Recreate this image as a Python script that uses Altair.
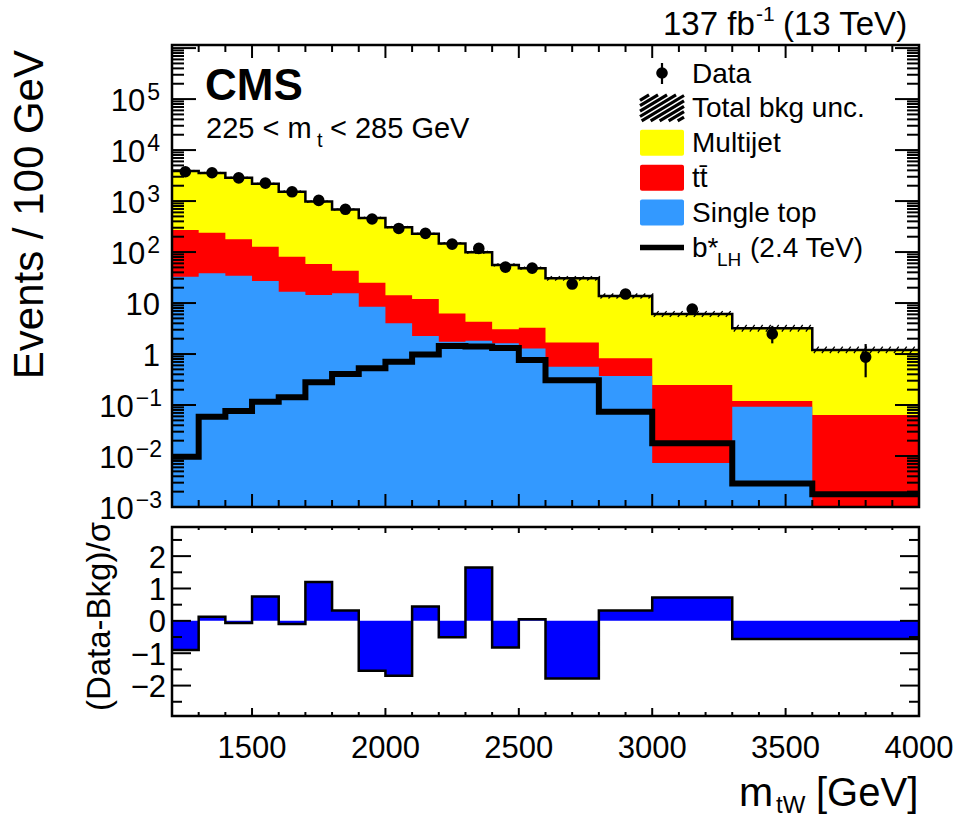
import numpy as np
import pandas as pd
import altair as alt

FONT = "Liberation Sans"

# ---------------- data (values per 100 GeV) ----------------
bin_lo = [1200, 1300, 1400, 1500, 1600, 1700, 1800, 1900, 2000, 2100,
          2200, 2300, 2400, 2500, 2600, 2800, 3000, 3300, 3600]
bin_hi = [1300, 1400, 1500, 1600, 1700, 1800, 1900, 2000, 2100, 2200,
          2300, 2400, 2500, 2600, 2800, 3000, 3300, 3600, 4000]

multijet = [3630, 3321, 2683, 2053, 1449, 917, 639, 443, 294, 216,
            141.7, 94.7, 52.9, 45.0, 28.8, 12.9, 5.85, 3.08, 1.14]
ttbar = [237, 201, 143, 100, 64, 44, 27.5, 16.5, 10.2, 9.8,
         4.5, 2.5, 1.43, 2.0, 1.12, 0.46, 0.24, 0.027, 0.064]
single_top = [32.8, 38.2, 34.3, 27.0, 16.7, 14.4, 15.5, 8.46, 4.0, 2.25,
              1.74, 1.82, 1.62, 1.29, 0.563, 0.371, 0.0073, 0.0927, 0.0]
signal_bstar = [0.0097, 0.059, 0.076, 0.116, 0.142, 0.279, 0.405, 0.525, 0.707, 0.977,
                1.44, 1.40, 1.31, 0.762, 0.305, 0.074, 0.0177, 0.0029, 0.00177]
data_obs = [3760, 3590, 2850, 2250, 1520, 1030, 690, 445, 290, 233,
            143, 118, 50.5, 48.5, 23.6, 15.0, 7.6, 2.47, 0.87]
data_err_lo = [61, 60, 53, 47, 39, 32, 26, 21, 17, 15,
               12, 11, 7, 7, 3.4, 2.6, 1.6, 0.85, 0.52]
data_err_hi = [61, 60, 53, 47, 39, 32, 26, 21, 17, 15,
               12, 11, 7, 7, 3.6, 2.9, 1.8, 1.1, 0.70]
bkg_unc = [0.03, 0.03, 0.03, 0.03, 0.03, 0.03, 0.03, 0.03, 0.03, 0.03,
           0.04, 0.05, 0.06, 0.06, 0.10, 0.12, 0.14, 0.16, 0.16]
pull_values = [-0.9, 0.13, -0.07, 0.75, -0.1, 1.2, 0.32, -1.54, -1.70, 0.44,
               -0.51, 1.65, -0.82, 0.05, -1.78, 0.32, 0.72, -0.56, -0.56]

x_tick_labels = [1500, 2000, 2500, 3000, 3500, 4000]
pull_tick_labels = [-2, -1, 0, 1, 2]
log_tick_exps = [-3, -2, -1, 0, 1, 2, 3, 4, 5]

legend_labels = ["Data", "Total bkg unc.", "Multijet", "tt\u0304", "Single top"]
legend_colors = {"Multijet": "#ffff00", "tt\u0304": "#ff0000", "Single top": "#3399ff"}

# ---------------- geometry ----------------
W, H = 747, 671
TOP_H = 462
BOT_T, BOT_B = 482, 671
YMIN, YMAX = 1e-3, 1.15e6

xs = alt.Scale(domain=[1200, 4000], range=[0, W], nice=False, zero=False)
ys_top = alt.Scale(type="log", domain=[YMIN, YMAX], range=[TOP_H, 0], nice=False)
ys_bot = alt.Scale(domain=[-2.94, 2.90], range=[BOT_B, BOT_T], nice=False, zero=False)

hist = pd.DataFrame({
    "lo": bin_lo, "hi": bin_hi,
    "mj": multijet, "tt": ttbar, "st": single_top,
    "data": data_obs, "elo": data_err_lo, "ehi": data_err_hi,
    "pull": pull_values,
})
hist["s_st"] = hist["st"]
hist["s_tt"] = hist["st"] + hist["tt"]
hist["s_all"] = hist["s_tt"] + hist["mj"]
hist["xc"] = (hist["lo"] + hist["hi"]) / 2
hist["d_lo"] = hist["data"] - hist["elo"]
hist["d_hi"] = hist["data"] + hist["ehi"]


def XQ(f):
    return alt.X(f, type="quantitative", scale=xs, axis=None)


def step_df(vals, base=None):
    vals = list(vals)
    d = pd.DataFrame({"x": bin_lo + [bin_hi[-1]], "y": vals + [vals[-1]]})
    if base is not None:
        d["b"] = base
    return d


def stack_area(vals, color):
    v = np.maximum(np.asarray(vals, dtype=float), YMIN)
    return alt.Chart(step_df(v, YMIN)).mark_area(
        interpolate="step-after", color=color, opacity=1).encode(
        x=XQ("x"), y=alt.Y("y:Q", scale=ys_top, axis=None), y2="b:Q")


def txt(text, x, y, size, align="left", angle=0, weight="normal", baseline="alphabetic"):
    return alt.Chart(pd.DataFrame({"t": [text]})).mark_text(
        font=FONT, fontSize=size, align=align, baseline=baseline, angle=angle,
        fontWeight=weight, color="black").encode(
        x=alt.value(x), y=alt.value(y), text="t:N")


def prect(x0, x1, y0, y1, **kw):
    return alt.Chart(pd.DataFrame({"a": [0]})).mark_rect(**kw).encode(
        x=alt.value(x0), x2=alt.value(x1), y=alt.value(y0), y2=alt.value(y1))


def pline(x0, y0, x1, y1, sw):
    return alt.Chart(pd.DataFrame({"a": [0]})).mark_rule(color="black", strokeWidth=sw).encode(
        x=alt.value(x0), x2=alt.value(x1), y=alt.value(y0), y2=alt.value(y1))


def xticks(vals, y0, y1, sw=2):
    return alt.Chart(pd.DataFrame({"v": vals})).mark_rule(color="black", strokeWidth=sw).encode(
        x=XQ("v"), y=alt.value(y0), y2=alt.value(y1))


def yticks(vals, scale, x0, x1, sw=2):
    return alt.Chart(pd.DataFrame({"v": vals})).mark_rule(color="black", strokeWidth=sw).encode(
        y=alt.Y("v:Q", scale=scale, axis=None), x=alt.value(x0), x2=alt.value(x1))


# ---------------- top panel ----------------
yellow = stack_area(hist["s_all"], "#ffff00")
red = stack_area(hist["s_tt"], "#ff0000")
blue = stack_area(hist["s_st"], "#3399ff")

hatch_rows = []
for lo, hi, tot, u in zip(bin_lo, bin_hi, hist["s_all"], bkg_unc):
    for xc in np.arange(lo + 15, hi, 30):
        hatch_rows.append({"xa": xc - 9, "xb": xc + 9, "ya": tot / (1 + u), "yb": tot * (1 + u)})
hatch = alt.Chart(pd.DataFrame(hatch_rows)).mark_rule(color="black", strokeWidth=1.3).encode(
    x=XQ("xa"), x2="xb:Q", y=alt.Y("ya:Q", scale=ys_top, axis=None), y2="yb:Q")

total_line = alt.Chart(step_df(hist["s_all"])).mark_line(
    interpolate="step-after", color="black", strokeWidth=2.5).encode(
    x=XQ("x"), y=alt.Y("y:Q", scale=ys_top, axis=None))
signal_line = alt.Chart(step_df(signal_bstar)).mark_line(
    interpolate="step-after", color="black", strokeWidth=6).encode(
    x=XQ("x"), y=alt.Y("y:Q", scale=ys_top, axis=None))

err = alt.Chart(hist).mark_rule(color="black", strokeWidth=2.2).encode(
    x=XQ("xc"), y=alt.Y("d_lo:Q", scale=ys_top, axis=None), y2="d_hi:Q")
dots = alt.Chart(hist).mark_circle(color="black", size=135, opacity=1).encode(
    x=XQ("xc"), y=alt.Y("data:Q", scale=ys_top, axis=None))

x_major = [1500, 2000, 2500, 3000, 3500]
x_minor = [v for v in range(1300, 4000, 100) if v % 500 != 0]
y_major = [10.0 ** k for k in range(-2, 7) if 10.0 ** k < YMAX]
y_minor = [m * 10.0 ** k for k in range(-3, 7) for m in range(2, 10) if m * 10.0 ** k < YMAX]

top_ticks = [
    xticks(x_major, TOP_H, TOP_H - 13), xticks(x_minor, TOP_H, TOP_H - 7),
    xticks(x_major, 0, 13), xticks(x_minor, 0, 7),
    yticks(y_major, ys_top, 0, 24), yticks(y_minor, ys_top, 0, 12),
    yticks(y_major, ys_top, W, W - 24), yticks(y_minor, ys_top, W, W - 12),
]

# log-axis labels
plain = pd.DataFrame({"v": [1.0, 10.0], "t": ["1", "10"]})
exp1 = pd.DataFrame({"v": [10.0 ** e for e in log_tick_exps if e >= 2],
                     "e": [str(e) for e in log_tick_exps if e >= 2]})
exp2 = pd.DataFrame({"v": [10.0 ** e for e in log_tick_exps if e < 0],
                     "e": ["\u2212" + str(-e) for e in log_tick_exps if e < 0]})
EXP_FS, BASE_FS = 23, 31


def ylab(df, field, x, size, dy, align="right"):
    return alt.Chart(df).mark_text(font=FONT, fontSize=size, align=align, baseline="alphabetic",
                                   dy=dy, color="black").encode(
        y=alt.Y("v:Q", scale=ys_top, axis=None), x=alt.value(x), text=f"{field}:N")


exp1["b"] = "10"
exp2["b"] = "10"
ylabels = [
    ylab(plain, "t", -12, BASE_FS, 12),
    ylab(exp1, "e", -12, EXP_FS, 1),
    ylab(exp2, "e", -10, EXP_FS, 1),
    ylab(exp1, "b", -12 - 0.556 * EXP_FS - 2, BASE_FS, 12),
    ylab(exp2, "b", -10 - 1.14 * EXP_FS - 2, BASE_FS, 12),
]

# legend
LX0, LX1 = 468, 512
LY0, LDY = 28, 34.9
leg = []
leg.append(pline(490, LY0 - 10, 490, LY0 + 11, 2.2))
leg.append(alt.Chart(pd.DataFrame({"a": [0]})).mark_circle(color="black", size=135, opacity=1).encode(
    x=alt.value(490), y=alt.value(LY0)))
# hatched box
hy0, hy1 = LY0 + LDY - 13, LY0 + LDY + 13
slope = 0.6
tlen = (hy1 - hy0) / slope
xk = LX0 - tlen
while xk < LX1:
    tmin = max(0.0, LX0 - xk)
    tmax = min(tlen, LX1 - xk)
    if tmax - tmin > 2:
        leg.append(pline(xk + tmin, hy1 - slope * tmin, xk + tmax, hy1 - slope * tmax, 3.2))
    xk += 9
for i, lab in enumerate(legend_labels):
    cy = LY0 + i * LDY
    if lab in legend_colors:
        leg.append(prect(LX0, LX1, cy - 13, cy + 13, fill=legend_colors[lab], cornerRadius=2))
    leg.append(txt(lab, 520, cy + 9.5, 28))
by = LY0 + 5 * LDY
leg.append(pline(LX0, by, LX1, by, 5.5))
leg.append(txt("b*", 520, by + 9.5, 28))
leg.append(txt("LH", 545, by + 18, 19))
leg.append(txt("(2.4 TeV)", 578, by + 9.5, 28))

top_text = [
    txt("CMS", 33, 55, 44, weight="bold"),
    txt("225 < m", 34, 92.7, 29),
    txt("t", 145, 101.7, 20),
    txt("< 285 GeV", 158, 92.7, 29),
    txt("137 fb", 491, -10, 33),
    txt("-1", 584, -24, 21),
    txt("(13 TeV)", 611, -10, 33),
    txt("Events / 100 GeV", -129, 5, 42, align="right", angle=270),
]

frame_top = prect(0, W, 0, TOP_H, filled=False, stroke="black", strokeWidth=2.5)

top = alt.layer(yellow, red, blue, hatch, total_line, signal_line, err, dots,
                *top_ticks, frame_top, *ylabels, *leg, *top_text)

# ---------------- bottom (pull) panel ----------------
pull_area = alt.Chart(step_df(pull_values, 0.0)).mark_area(
    interpolate="step-after", color="#0000ff", opacity=1).encode(
    x=XQ("x"), y=alt.Y("y:Q", scale=ys_bot, axis=None), y2="b:Q")
pull_line = alt.Chart(step_df(pull_values)).mark_line(
    interpolate="step-after", color="black", strokeWidth=2.5).encode(
    x=XQ("x"), y=alt.Y("y:Q", scale=ys_bot, axis=None))

p_major = [-2, -1, 0, 1, 2]
p_minor = [-2.5, -1.5, -0.5, 0.5, 1.5, 2.5]
bot_ticks = [
    xticks(x_major, BOT_B, BOT_B - 8), xticks(x_minor, BOT_B, BOT_B - 4),
    xticks(x_major, BOT_T, BOT_T + 6), xticks(x_minor, BOT_T, BOT_T + 3),
    yticks(p_major, ys_bot, 0, 19), yticks(p_minor, ys_bot, 0, 10),
    yticks(p_major, ys_bot, W, W - 19), yticks(p_minor, ys_bot, W, W - 10),
]

plab = pd.DataFrame({"v": pull_tick_labels,
                     "t": [("\u2212" + str(-v)) if v < 0 else str(v) for v in pull_tick_labels]})
pull_labels = alt.Chart(plab).mark_text(font=FONT, fontSize=31, align="right", baseline="alphabetic",
                                        dy=11.5, color="black").encode(
    y=alt.Y("v:Q", scale=ys_bot, axis=None), x=alt.value(-6), text="t:N")

xlab = pd.DataFrame({"v": x_tick_labels, "t": [str(v) for v in x_tick_labels]})
x_labels = alt.Chart(xlab).mark_text(font=FONT, fontSize=31, align="center", baseline="alphabetic",
                                     color="black").encode(
    x=XQ("v"), y=alt.value(713), text="t:N")

bot_text = [
    txt("m", 567, 761, 41),
    txt("tW", 604, 768, 24),
    txt("[GeV]", 644, 761, 40),
    txt("(Data-Bkg)/\u03c3", -62, 477, 33, align="right", angle=270),
]

frame_bot = prect(0, W, BOT_T, BOT_B, filled=False, stroke="black", strokeWidth=2.5)

bottom = alt.layer(pull_area, pull_line, *bot_ticks, frame_bot, pull_labels, x_labels, *bot_text)

chart = alt.layer(top, bottom).resolve_scale(y="independent").properties(
    width=W, height=H,
    autosize=alt.AutoSizeParams(type="none"),
    padding={"left": 172, "top": 45, "right": 44, "bottom": 101},
    background="white",
).configure_view(stroke=None)

chart.save("out.html", embed_options={"renderer": "svg", "actions": False})
